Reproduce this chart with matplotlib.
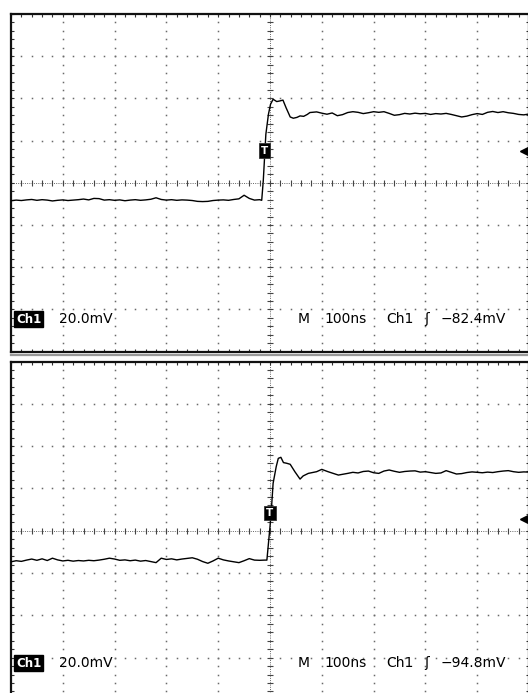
import numpy as np
import matplotlib
matplotlib.use("Agg")
import matplotlib.pyplot as plt
from matplotlib.lines import Line2D

# ---------------- data (time in ns, amplitude in mV) ----------------
top_t = [-500, -490, -480, -470, -460, -450, -440, -430, -420, -410,
         -400, -390, -380, -370, -360, -350, -340, -330, -320, -310,
         -300, -290, -280, -270, -260, -250, -240, -230, -220, -210,
         -200, -190, -180, -170, -160, -150, -140, -130, -120, -110,
         -100, -90, -80, -70, -60, -50, -40, -30, -20, -16,
         -13, -8, -3, 1, 6, 13, 19, 25, 31, 39,
         45, 52, 58, 65, 72, 77, 90, 100, 110, 120,
         130, 140, 150, 160, 170, 180, 190, 200, 210, 220,
         230, 240, 250, 260, 270, 280, 290, 300, 310, 320,
         330, 340, 350, 360, 370, 380, 390, 400, 410, 420,
         430, 440, 450, 460, 470, 480, 490, 500]
top_v = [-8.5, -8.2, -8.4, -8.1, -7.9, -8.3, -8.0, -8.2, -8.6, -8.3,
         -8.1, -8.4, -8.2, -8.0, -7.7, -8.1, -7.4, -7.5, -8.2, -8.0,
         -8.3, -8.1, -8.5, -8.2, -8.0, -8.3, -8.1, -7.8, -7.1, -7.9,
         -8.2, -8.0, -8.3, -8.1, -8.2, -8.4, -8.8, -8.9, -8.8, -8.4,
         -8.2, -8.1, -8.3, -7.9, -7.6, -5.9, -7.4, -8.2, -8.0, -8.3,
         0.9, 23.0, 32.5, 37.2, 39.6, 38.5, 38.8, 39.2, 35.6, 31.2,
         30.6, 31.0, 31.7, 31.5, 32.4, 33.3, 33.6, 33.0, 32.5, 33.1,
         31.8, 32.3, 33.3, 33.7, 33.4, 32.8, 33.2, 33.7, 33.4, 33.7,
         32.9, 32.0, 32.3, 32.9, 32.6, 33.0, 32.7, 32.9, 32.4, 32.8,
         32.6, 32.9, 32.4, 31.8, 31.2, 31.6, 32.3, 32.8, 32.4, 33.4,
         33.8, 33.3, 33.7, 33.2, 32.9, 32.4, 32.2, 32.6]

bot_t = [-500, -490, -480, -470, -460, -450, -440, -430, -420, -410,
         -400, -390, -380, -370, -360, -350, -340, -330, -320, -310,
         -300, -290, -280, -270, -260, -250, -240, -230, -220, -210,
         -200, -190, -180, -170, -160, -150, -140, -130, -120, -110,
         -100, -90, -80, -70, -60, -50, -40, -30, -20, -10,
         -6, -3, 0, 3, 6, 12, 16, 21, 26, 32,
         39, 48, 58, 64, 74, 90, 100, 112, 132, 150,
         160, 170, 180, 190, 200, 210, 220, 230, 240, 250,
         260, 270, 280, 290, 300, 310, 320, 330, 340, 350,
         360, 370, 380, 390, 400, 410, 420, 430, 440, 450,
         460, 470, 480, 490, 500]
bot_v = [-14.7, -14.2, -14.5, -13.9, -13.4, -14.0, -13.3, -14.1, -13.0, -13.8,
         -14.3, -14.0, -14.4, -14.1, -14.3, -14.0, -14.2, -13.9, -13.5, -13.0,
         -13.4, -14.0, -13.8, -14.2, -13.9, -14.4, -14.1, -14.6, -15.1, -13.0,
         -13.6, -13.3, -13.8, -13.4, -13.1, -12.8, -13.5, -14.6, -15.4, -14.3,
         -13.0, -13.8, -14.3, -14.7, -15.1, -14.2, -13.2, -13.9, -14.0, -13.9,
         -13.9, -6.0, 1.9, 11.3, 22.4, 30.3, 34.2, 34.7, 32.2, 31.9,
         31.4, 27.9, 24.4, 25.9, 27.1, 27.9, 29.0, 27.9, 26.3, 27.1,
         27.6, 27.3, 28.0, 28.2, 27.4, 27.1, 28.2, 28.7, 28.1, 27.6,
         28.0, 28.2, 28.3, 27.7, 27.9, 27.5, 27.1, 27.3, 28.4, 27.6,
         26.8, 27.0, 27.5, 27.8, 27.6, 27.4, 27.7, 27.5, 27.9, 28.2,
         28.4, 27.9, 27.6, 27.8, 27.7]

top_trig_pos = (-10.6, 15.2)     # trigger marker (ns, mV)
bot_trig_pos = (0.0, 8.4)
top_level_v = 15.2               # right-edge trigger level arrow (mV)
bot_level_v = 5.5

channel = "Ch1"
volts_div = "20.0mV"
time_div = "100ns"
top_trig_text = "\u221282.4mV"
bot_trig_text = "\u221294.8mV"

# ---------------- layout ----------------
W, H = 528, 693
fig = plt.figure(figsize=(W / 100, H / 100), dpi=100)
fig.patch.set_facecolor("white")


def px_axes(left, top, width, height):
    return fig.add_axes([left / W, 1 - (top + height) / H, width / W, height / H])


ax1 = px_axes(11, 14, 10 * 51.8, 8 * 42.2)
ax2 = px_axes(11, 361.5, 10 * 51.8, 8 * 42.3)

xs_minor = np.arange(-500, 501, 20)
ys_minor = np.arange(-80, 81, 4)
dot_col = "#6a6a6a"


def draw_panel(ax, t, v, trig_pos, level_v, trig_text, text_y):
    ax.set_xlim(-500, 500)
    ax.set_ylim(-80, 80)
    ax.set_facecolor("white")
    # dotted graticule
    for gx in [-400, -300, -200, -100, 100, 200, 300, 400]:
        ax.plot([gx] * len(ys_minor), ys_minor, ls="none", marker="s",
                ms=1.1, mew=0, color=dot_col, zorder=1)
    for gy in [-60, -40, -20, 20, 40, 60]:
        ax.plot(xs_minor, [gy] * len(xs_minor), ls="none", marker="s",
                ms=1.1, mew=0, color=dot_col, zorder=1)
    # centre cross with fine ticks
    ax.axhline(0, color="#666666", lw=0.7, ls=(0, (1, 1.3)), zorder=1)
    ax.axvline(0, color="#666666", lw=0.7, ls=(0, (1, 1.3)), zorder=1)
    ax.plot(xs_minor, [0] * len(xs_minor), ls="none", marker="|", ms=4.5,
            mew=0.8, color="#444444", zorder=1)
    ax.plot([0] * len(ys_minor), ys_minor, ls="none", marker="_", ms=4.5,
            mew=0.8, color="#444444", zorder=1)
    # border ticks
    ax.set_xticks(np.arange(-500, 501, 100))
    ax.set_yticks(np.arange(-80, 81, 20))
    ax.set_xticks(xs_minor, minor=True)
    ax.set_yticks(ys_minor, minor=True)
    ax.tick_params(which="both", direction="in", length=2.5, width=0.8,
                   color="#333333", top=True, right=True,
                   labelbottom=False, labelleft=False)
    for s in ax.spines.values():
        s.set_linewidth(1.6)
        s.set_color("#111111")
    # waveform
    ax.plot(t, v, color="black", lw=1.0, zorder=5, solid_joinstyle="round")
    # trigger marker
    ax.text(trig_pos[0], trig_pos[1], "T", color="white", fontsize=7.5,
            fontweight="bold", ha="center", va="center", zorder=6,
            bbox=dict(boxstyle="square,pad=0.22", fc="black", ec="#333333", lw=0.6))
    # trigger level arrow on right edge
    ax.plot([493], [level_v], marker="<", ms=7, color="black", ls="none",
            zorder=6, clip_on=False)
    # readouts
    fs = 10
    fam = "DejaVu Sans"
    ax.text(-490, text_y, channel, color="white", fontsize=8.5, fontweight="bold",
            family=fam, ha="left", va="baseline", zorder=7,
            bbox=dict(boxstyle="square,pad=0.15", fc="black", ec="black"))
    ax.text(-407, text_y, volts_div, fontsize=fs, family=fam, ha="left",
            va="baseline", zorder=7)
    ax.text(53, text_y, "M", fontsize=fs, family=fam, ha="left",
            va="baseline", zorder=7)
    ax.text(106, text_y, time_div, fontsize=fs, family=fam, ha="left",
            va="baseline", zorder=7)
    ax.text(225, text_y, channel, fontsize=fs, family=fam, ha="left",
            va="baseline", zorder=7)
    ax.text(297, text_y, "\u0283", fontsize=fs, family=fam, ha="left",
            va="baseline", zorder=7)
    ax.text(329, text_y, trig_text, fontsize=fs, family=fam, ha="left",
            va="baseline", zorder=7)


draw_panel(ax1, top_t, top_v, top_trig_pos, top_level_v, top_trig_text, -66.3)
draw_panel(ax2, bot_t, bot_v, bot_trig_pos, bot_level_v, bot_trig_text, -64.3)

# bezel shadow between the two captures
fig.add_artist(Line2D([11 / W, 1], [1 - 355 / H] * 2, color="#9a9a9a", lw=1.6))

fig.savefig("out.png", dpi=100, facecolor="white")
